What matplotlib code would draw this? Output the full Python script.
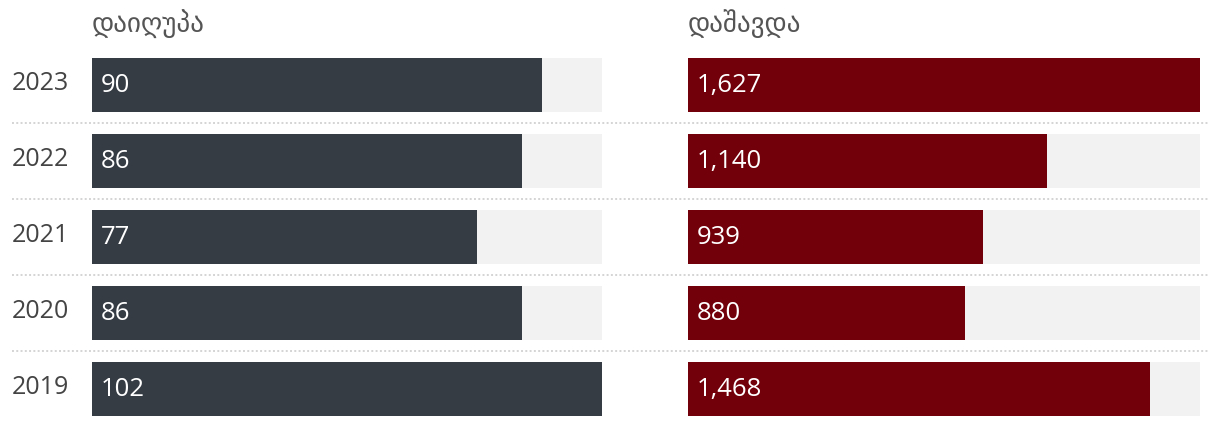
import matplotlib
matplotlib.use("Agg")
import matplotlib.pyplot as plt
from matplotlib.lines import Line2D

years = ["2023", "2022", "2021", "2020", "2019"]
died = [90, 86, 77, 86, 102]
injured = [1627, 1140, 939, 880, 1468]
titles = ["დაიღუპა", "დაშავდა"]

W, H = 1220, 426
fig = plt.figure(figsize=(W / 100, H / 100), dpi=100)
fam = ["Open Sans", "DejaVu Sans"]

def px_ax(x0, x1):
    return fig.add_axes([x0 / W, 0, (x1 - x0) / W, 1])

row_c0, pitch, bar_h = 85, 76, 54
ylim = ((H - row_c0) / pitch, (0 - row_c0) / pitch)

panels = [
    (92, 602, died, "#363c44", titles[0]),
    (688, 1200, injured, "#72000a", titles[1]),
]
for x0, x1, vals, col, title in panels:
    ax = px_ax(x0, x1)
    vmax = max(vals)
    idx = list(range(len(vals)))
    ax.barh(idx, [vmax] * len(vals), height=bar_h / pitch, color="#f2f2f2", left=0)
    ax.barh(idx, vals, height=bar_h / pitch, color=col, left=0)
    ax.set_xlim(0, vmax)
    ax.set_ylim(*ylim)
    ax.axis("off")
    for i, v in zip(idx, vals):
        ax.text(9 / (x1 - x0) * vmax, i + 0.01, f"{v:,}", color="white", va="center",
                ha="left", fontsize=18.5, family=fam)
    fig.text(x0 / W, 1 - 25 / H, title, fontsize=19.5, color="#555555",
             va="center", ha="left", family=fam)

for i, y in enumerate(years):
    fig.text(12 / W, 1 - (row_c0 + pitch * i - 2) / H, y, fontsize=18, color="#444444",
             va="center", ha="left", family=fam)

for i in range(len(years) - 1):
    yp = row_c0 + pitch * i + pitch / 2
    fig.add_artist(Line2D([12 / W, 1208 / W], [1 - yp / H] * 2, color="#d4d4d4",
                          linestyle=(0, (1, 1.2)), linewidth=1.4))

fig.savefig("out.png", dpi=100)
